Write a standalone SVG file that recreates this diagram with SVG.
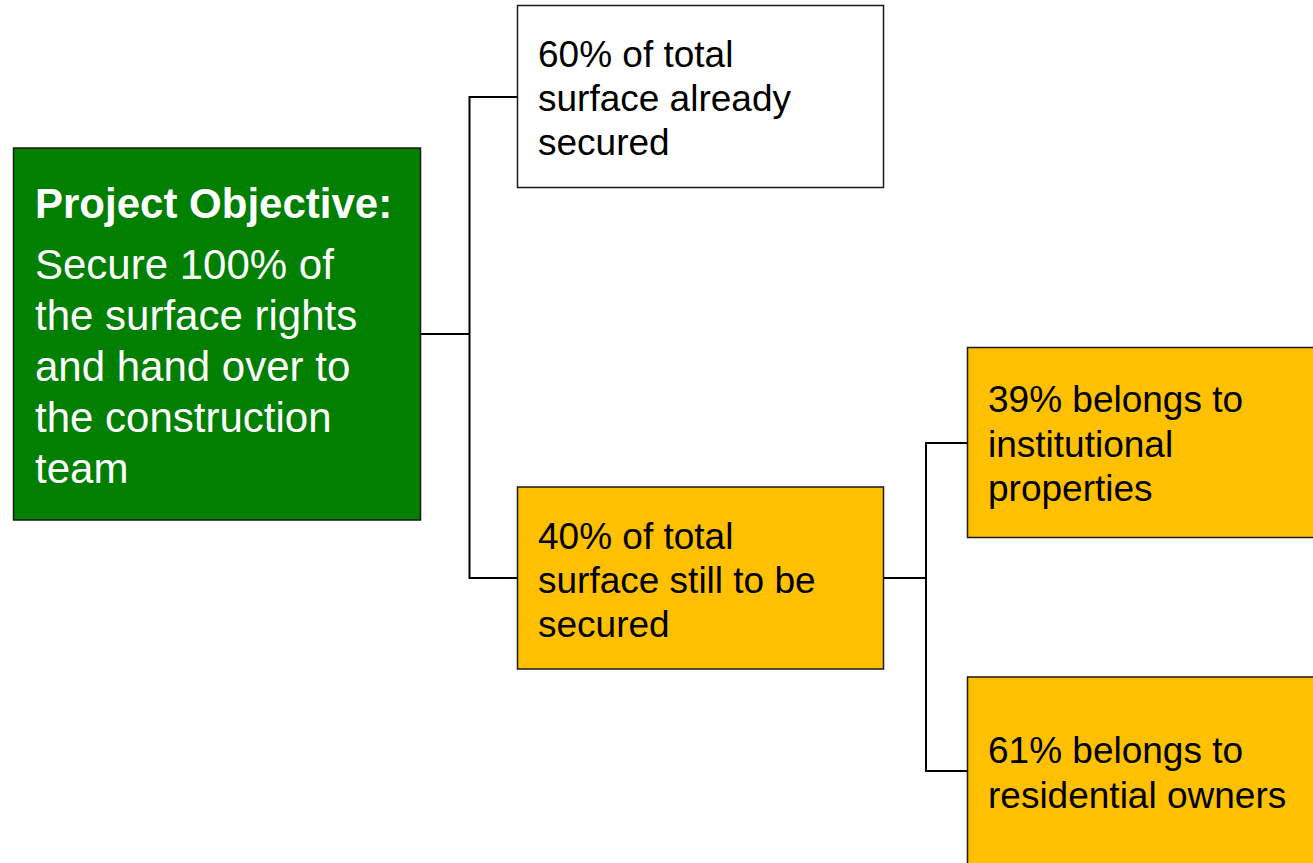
<svg xmlns="http://www.w3.org/2000/svg" width="1313" height="863" viewBox="0 0 1313 863">
<style>
.box{stroke:#1a1a1a;stroke-width:1.5}
.green{fill:#007F00}
.white{fill:#ffffff}
.yellow{fill:#FFC000}
.t{font-family:"Liberation Sans",Arial,sans-serif;font-size:37px;fill:#000}
.tg{font-family:"Liberation Sans",Arial,sans-serif;font-size:42px;fill:#fff}
.conn{fill:none;stroke:#000;stroke-width:2}
</style>
<rect width="1313" height="863" fill="#fff"/>
<g id="connectors">
<polyline class="conn" points="420.5,334 469.5,334"/>
<polyline class="conn" points="517.5,97 469.5,97 469.5,578 517.5,578"/>
<polyline class="conn" points="883.5,578 926,578"/>
<polyline class="conn" points="967.5,443 926,443 926,771 967.5,771"/>
</g>
<g id="objective">
<rect class="box green" x="13.5" y="148" width="407" height="372"/>
<text class="tg" x="35" y="218" font-weight="bold">Project Objective:</text>
<text class="tg" x="35" y="279">Secure 100% of</text>
<text class="tg" x="35" y="330">the surface rights</text>
<text class="tg" x="35" y="381">and hand over to</text>
<text class="tg" x="35" y="432">the construction</text>
<text class="tg" x="35" y="483">team</text>
</g>
<g id="secured">
<rect class="box white" x="517.5" y="5.5" width="366" height="182"/>
<text class="t" x="538" y="67">60% of total</text>
<text class="t" x="538" y="111">surface already</text>
<text class="t" x="538" y="155">secured</text>
</g>
<g id="to-secure">
<rect class="box yellow" x="517.5" y="487" width="366" height="182"/>
<text class="t" x="538" y="549">40% of total</text>
<text class="t" x="538" y="593">surface still to be</text>
<text class="t" x="538" y="637">secured</text>
</g>
<g id="institutional">
<rect class="box yellow" x="967.5" y="347.5" width="360" height="190"/>
<text class="t" x="988" y="412">39% belongs to</text>
<text class="t" x="988" y="457">institutional</text>
<text class="t" x="988" y="501">properties</text>
</g>
<g id="residential">
<rect class="box yellow" x="967.5" y="677" width="360" height="200"/>
<text class="t" x="988" y="763">61% belongs to</text>
<text class="t" x="988" y="808">residential owners</text>
</g>
</svg>
